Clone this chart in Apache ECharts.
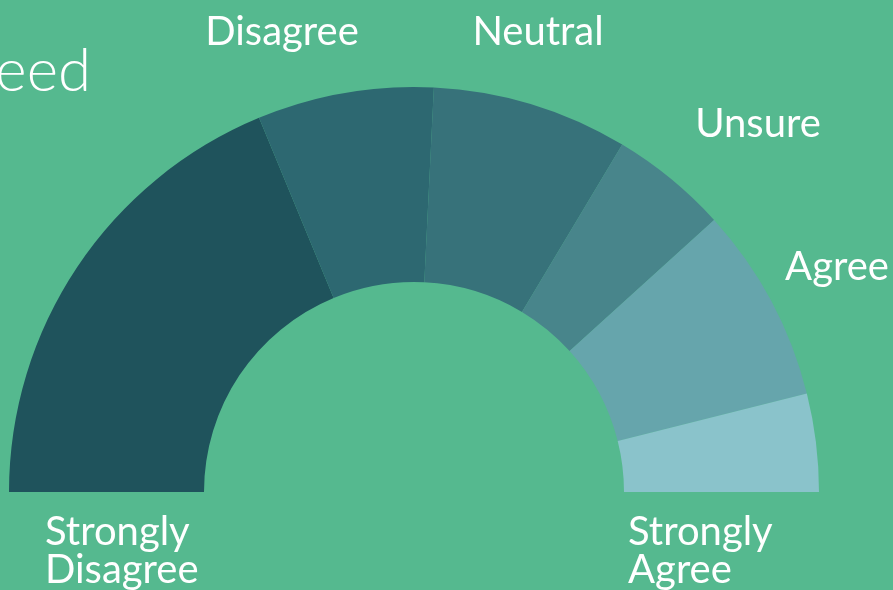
<!DOCTYPE html>
<html>
<head>
<meta charset="utf-8">
<style>
  html, body { margin: 0; padding: 0; background: #55b98f; }
  #chart { width: 893px; height: 590px; }
</style>
<script src="https://cdn.jsdelivr.net/npm/echarts@6/dist/echarts.min.js"></script>
</head>
<body>
<div id="chart"></div>
<script>
var categories = ['Strongly Disagree', 'Disagree', 'Neutral', 'Unsure', 'Agree', 'Strongly Agree'];
var values = [24, 9, 10, 6, 10, 5];
var colors = ['#1f535c', '#2d6871', '#37727a', '#48858b', '#66a5ac', '#8ac3cb'];

// where each label sits (label placement only, not marks)
var labelSpots = [
    { x: 45, y: 551, align: 'left' },
    { x: 282, y: 32, align: 'center' },
    { x: 538, y: 32, align: 'center' },
    { x: 758, y: 124, align: 'center' },
    { x: 837, y: 267, align: 'center' },
    { x: 628, y: 551, align: 'left' }
];

var myChart = echarts.init(document.getElementById('chart'));

var pieData = categories.map(function (name, i) {
    return { name: name, value: values[i], itemStyle: { color: colors[i] } };
});

var option = {
    backgroundColor: '#55b98f',
    animation: false,
    graphic: [{
        type: 'text',
        x: 91,
        y: 102,
        style: {
            text: 'Need',
            fill: '#ffffff',
            font: '300 60px Lato',
            align: 'right',
            verticalAlign: 'bottom'
        }
    }],
    series: [{
        type: 'pie',
        center: [414, 492],
        radius: [210, 405],
        startAngle: 180,
        endAngle: 0,
        clockwise: true,
        avoidLabelOverlap: false,
        data: pieData,
        label: {
            show: true,
            position: 'outside',
            color: '#ffffff',
            fontFamily: 'Lato',
            fontSize: 40,
            lineHeight: 38,
            formatter: function (p) {
                return p.name.replace(' ', '\n');
            }
        },
        labelLine: { show: false },
        labelLayout: function (params) {
            var s = labelSpots[params.dataIndex];
            return { x: s.x, y: s.y, align: s.align, verticalAlign: 'middle' };
        },
        emphasis: { disabled: true }
    }]
};

myChart.setOption(option);
</script>
</body>
</html>
